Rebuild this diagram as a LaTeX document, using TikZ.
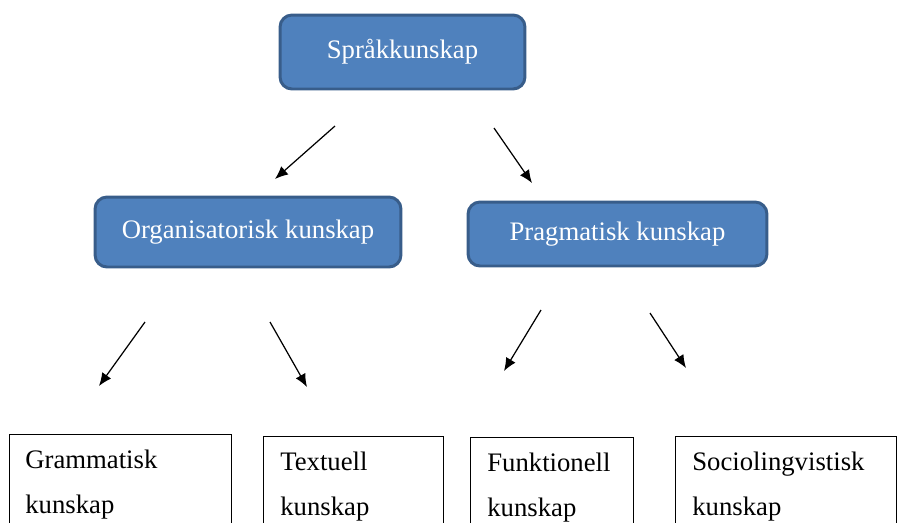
\documentclass[tikz,border=0pt]{standalone}
\usepackage{fontspec}
\setmainfont{Liberation Serif}
\usetikzlibrary{arrows.meta}

\definecolor{boxblue}{RGB}{79,129,189}
\definecolor{boxedge}{RGB}{56,93,138}

\tikzset{
  bluebox/.style={draw=boxedge, line width=1.7pt, fill=boxblue, rounded corners=0.24cm,
    text=white, inner sep=0pt},
  whitebox/.style={draw=black, line width=0.7pt, fill=white, inner sep=0pt,
    anchor=north west, minimum height=3cm},
  boxtext/.style={anchor=base west, align=left, inner sep=0pt},
  arrow/.style={-{Latex[length=0.26cm,width=0.22cm]}, line width=0.7pt}
}

\begin{document}
\begin{tikzpicture}[x=0.02cm, y=-0.02cm, font=\fontsize{15.2}{25.6}\selectfont]
  \clip (0,0) rectangle (897,522);

  % Top level
  \node[bluebox, minimum width=4.9cm, minimum height=1.48cm] (sprak) at (402.5,52) {Språkkunskap};

  % Second level
  \node[bluebox, minimum width=6.12cm, minimum height=1.4cm] (org) at (248,232) {Organisatorisk kunskap};
  \node[bluebox, minimum width=5.98cm, minimum height=1.28cm] (prag) at (617.5,234) {Pragmatisk kunskap};

  % Third level boxes (cut at the bottom)
  \node[whitebox, minimum width=4.44cm] (gram) at (9,434) {};
  \node[whitebox, minimum width=3.6cm] (text) at (263,436) {};
  \node[whitebox, minimum width=3.26cm] (funk) at (470,437) {};
  \node[whitebox, minimum width=4.42cm] (socio) at (675,436) {};

  % labels sit on the baseline of their last line
  \node[boxtext] (gramlbl) at (25,513) {Grammatisk\\kunskap};
  \node[boxtext] (textlbl) at (280,515) {Textuell\\kunskap};
  \node[boxtext] (funklbl) at (487,516) {Funktionell\\kunskap};
  \node[boxtext] (sociolbl) at (692,515) {Sociolingvistisk\\kunskap};

  % Free arrow ends
  \coordinate (orgfrom) at (335,126);   \coordinate (orgto) at (275,179);
  \coordinate (pragfrom) at (494,128);  \coordinate (pragto) at (532,183);
  \coordinate (gramfrom) at (145,322);  \coordinate (gramto) at (99,386);
  \coordinate (textfrom) at (270,322);  \coordinate (textto) at (307,387);
  \coordinate (funkfrom) at (541,310);  \coordinate (funkto) at (504,371);
  \coordinate (sociofrom) at (650,313); \coordinate (socioto) at (686,368);

  \foreach \n in {org,prag,gram,text,funk,socio}
    \draw[arrow] (\n from) -- (\n to);
\end{tikzpicture}
\end{document}
